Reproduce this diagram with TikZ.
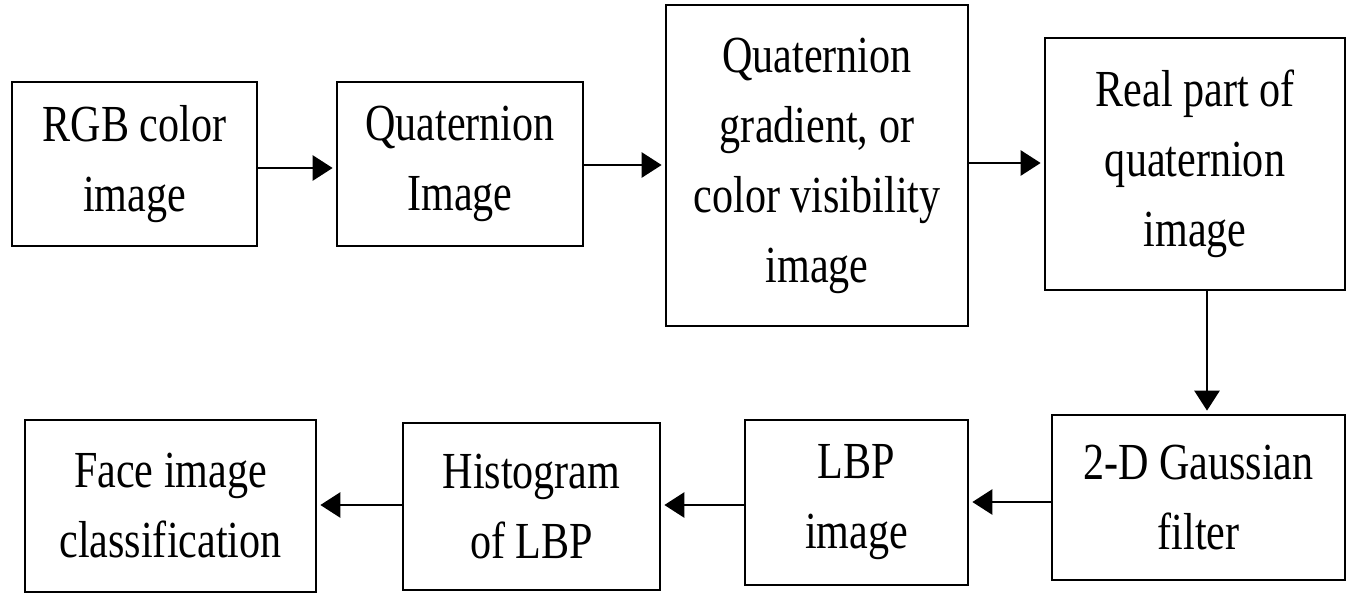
\documentclass[tikz,border=0pt]{standalone}
\usepackage{fontspec}
\setmainfont{Liberation Serif}[FakeStretch=0.81]
\usetikzlibrary{arrows.meta}
\begin{document}
\begin{tikzpicture}[x=1pt,y=1pt,
 blk/.style={draw=black,line width=2.7pt,inner sep=0pt,align=center,font=\fontsize{52}{70}\selectfont},
 arr/.style={line width=2.7pt,shorten >=3pt,-{Triangle[length=20pt,width=25pt]}}]
\useasboundingbox (0,0) rectangle (1348,-597);
\node[blk,minimum width=245pt,minimum height=164pt] (b1) at (134.5,-164) {RGB color\\image};
\node[blk,minimum width=246pt,minimum height=164pt] (b2) at (460,-164) {Quaternion\\Image};
\node[blk,minimum width=302pt,minimum height=321pt] (b3) at (817,-165.5) {Quaternion\\gradient, or\\color visibility\\image};
\node[blk,minimum width=300pt,minimum height=252pt] (b4) at (1195,-164) {Real part of\\quaternion\\image};
\node[blk,minimum width=293pt,minimum height=165pt] (b5) at (1198.5,-497.5) {2-D Gaussian\\filter};
\node[blk,minimum width=223pt,minimum height=165pt] (b6) at (856.5,-502.5) {LBP\\image};
\node[blk,minimum width=257pt,minimum height=167pt] (b7) at (531.5,-506.5) {Histogram\\of LBP};
\node[blk,minimum width=291pt,minimum height=172pt] (b8) at (170.5,-506) {Face image\\classification};
\draw[arr] ([yshift=-4pt]b1.east) -- ([yshift=-4pt]b2.west);
\draw[arr] ([yshift=-1pt]b2.east) -- ([yshift=0.5pt]b3.west);
\draw[arr] ([yshift=2.5pt]b3.east) -- ([yshift=1pt]b4.west);
\draw[arr] ([xshift=12pt]b4.south) -- ([xshift=8.5pt]b5.north);
\draw[arr] ([yshift=-4.5pt]b5.west) -- ([yshift=0.5pt]b6.east);
\draw[arr] ([yshift=-2.5pt]b6.west) -- ([yshift=1.5pt]b7.east);
\draw[arr] ([yshift=1.5pt]b7.west) -- ([yshift=1pt]b8.east);
\end{tikzpicture}
\end{document}
